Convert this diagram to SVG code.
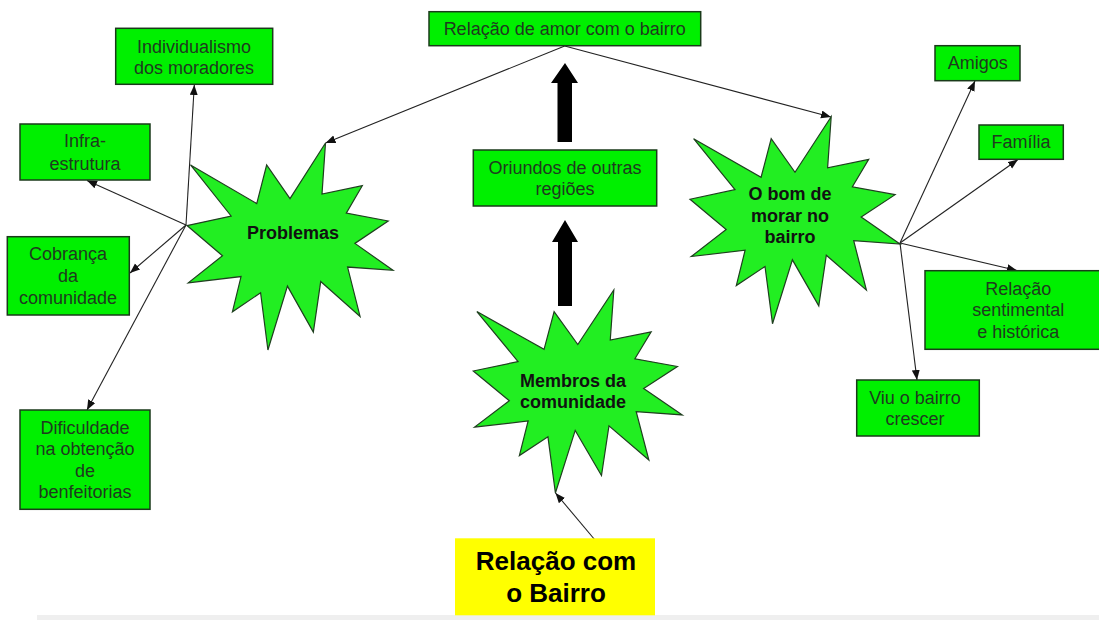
<svg xmlns="http://www.w3.org/2000/svg" width="1099" height="620" viewBox="0 0 1099 620">
<style>
.box{fill:#00f000;stroke:#1a3a1a;stroke-width:1.5}
.star{fill:#22ee22;stroke:#1f3f1f;stroke-width:1.2}
.t{font-family:"Liberation Sans",Arial,sans-serif;font-size:18px;fill:#1f3a1f;text-anchor:middle}
.tb{font-family:"Liberation Sans",Arial,sans-serif;font-size:18px;font-weight:bold;fill:#111;text-anchor:middle}
.ty{font-family:"Liberation Sans",Arial,sans-serif;font-size:26px;font-weight:bold;fill:#000;text-anchor:middle}
.c{stroke:#222;stroke-width:1.1;fill:none;marker-end:url(#ah)}
</style>
<defs>
<marker id="ah" markerUnits="userSpaceOnUse" markerWidth="12" markerHeight="10" refX="10" refY="4" orient="auto">
<path d="M0,0 L10,4 L0,8 Z" fill="#111"/>
</marker>
<path id="seal" vector-effect="non-scaling-stroke" d="M10800,5800 L14522,0 L14155,5325 L18380,4457 L16702,7315 L21097,8137 L17607,10475 L21600,13290 L16837,12942 L18145,18095 L14020,14457 L13247,19737 L10532,14935 L8485,21600 L7715,15627 L4762,17617 L5667,13937 L135,14587 L3722,11775 L0,8615 L4627,7617 L370,2295 L7312,6320 L8352,2295 Z"/>
</defs>
<rect width="1099" height="620" fill="#fff"/>
<rect x="37" y="615" width="1062" height="5" fill="#efefef"/>

<g id="connectors">
<line class="c" x1="564.7" y1="46" x2="325.5" y2="143"/>
<line class="c" x1="564.7" y1="46" x2="831" y2="117"/>
<line class="c" x1="595" y1="540" x2="555.5" y2="493"/>
<line class="c" x1="186" y1="225" x2="194.3" y2="85"/>
<line class="c" x1="186" y1="225" x2="87" y2="180.5"/>
<line class="c" x1="186" y1="225" x2="130" y2="273"/>
<line class="c" x1="186" y1="225" x2="87" y2="410"/>
<line class="c" x1="900" y1="243" x2="975" y2="81"/>
<line class="c" x1="900" y1="243" x2="1018" y2="159.5"/>
<line class="c" x1="900" y1="243" x2="1017" y2="270.5"/>
<line class="c" x1="900" y1="243" x2="917" y2="380"/>
<polygon points="565,63 578,83 572,83 572,142 557.5,142 557.5,83 551,83" fill="#000"/>
<polygon points="565,220 578,242 572,242 572,306 558,306 558,242 552,242" fill="#000"/>
</g>

<g id="problemas">
<use href="#seal" class="star" transform="translate(187,143) scale(0.0095370,0.0095833)"/>
<text class="tb" x="293" y="239">Problemas</text>
</g>

<g id="membros">
<use href="#seal" class="star" transform="translate(473.3,290) scale(0.0096759,0.0093981)"/>
<text class="tb" x="573" y="386.7">Membros da</text>
<text class="tb" x="573" y="407.7">comunidade</text>
</g>

<g id="obom">
<use href="#seal" class="star" transform="translate(690,116.7) scale(0.0097222,0.0095833)"/>
<text class="tb" x="790" y="200">O bom de</text>
<text class="tb" x="790" y="221.5">morar no</text>
<text class="tb" x="790" y="242.5">bairro</text>
</g>

<g id="amor">
<rect class="box" x="429" y="11.7" width="271.7" height="34"/>
<text class="t" x="564.7" y="35">Relação de amor com o bairro</text>
</g>

<g id="oriundos">
<rect class="box" x="473.3" y="150" width="183.4" height="56"/>
<text class="t" x="565" y="174">Oriundos de outras</text>
<text class="t" x="565" y="195">regiões</text>
</g>

<g id="individualismo">
<rect class="box" x="115.7" y="28.3" width="157" height="56"/>
<text class="t" x="194" y="52.7">Individualismo</text>
<text class="t" x="194" y="74">dos moradores</text>
</g>

<g id="infra">
<rect class="box" x="20" y="124" width="130" height="56"/>
<text class="t" x="85" y="146.7">Infra-</text>
<text class="t" x="85" y="170">estrutura</text>
</g>

<g id="cobranca">
<rect class="box" x="7.3" y="236.7" width="122" height="78.3"/>
<text class="t" x="68" y="260">Cobrança</text>
<text class="t" x="68" y="282">da</text>
<text class="t" x="68" y="303.5">comunidade</text>
</g>

<g id="dificuldade">
<rect class="box" x="20" y="410" width="130" height="99.3"/>
<text class="t" x="85" y="434">Dificuldade</text>
<text class="t" x="85" y="455.3">na obtenção</text>
<text class="t" x="85" y="476.7">de</text>
<text class="t" x="85" y="498">benfeitorias</text>
</g>

<g id="amigos">
<rect class="box" x="935" y="45.7" width="85" height="35"/>
<text class="t" x="977.7" y="69.3">Amigos</text>
</g>

<g id="familia">
<rect class="box" x="979" y="125" width="84.3" height="34.3"/>
<text class="t" x="1021" y="148.3">Família</text>
</g>

<g id="sentimental">
<rect class="box" x="925" y="270.7" width="190" height="78.6"/>
<text class="t" x="1018.3" y="294.7">Relação</text>
<text class="t" x="1018.3" y="316.3">sentimental</text>
<text class="t" x="1018.3" y="338">e histórica</text>
</g>

<g id="viu">
<rect class="box" x="856.7" y="380" width="122.6" height="56"/>
<text class="t" x="915" y="404.3">Viu o bairro</text>
<text class="t" x="915" y="425">crescer</text>
</g>

<g id="relacao-bairro">
<rect x="455" y="538.3" width="200" height="77" fill="#ffff00"/>
<text class="ty" x="556" y="569.5">Relação com</text>
<text class="ty" x="556" y="601.5">o Bairro</text>
</g>
</svg>
